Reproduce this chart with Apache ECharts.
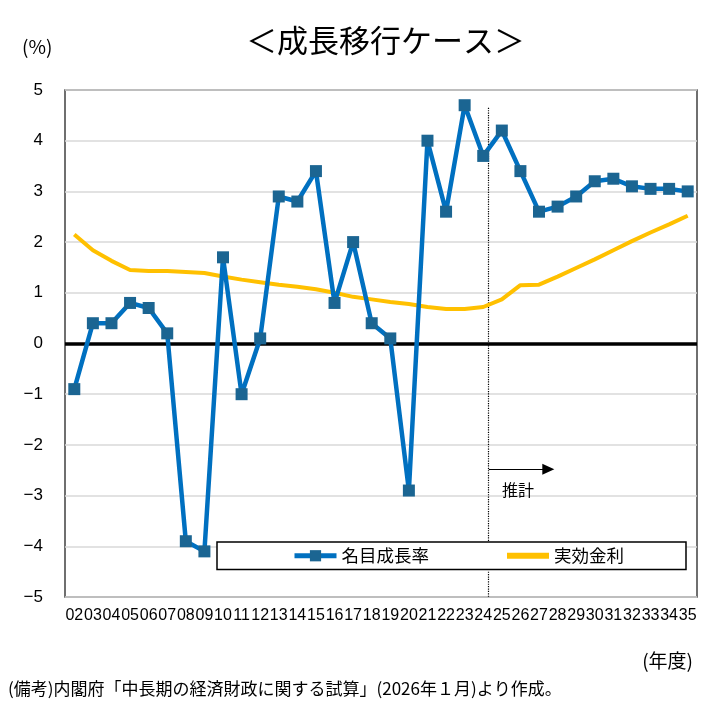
<!DOCTYPE html>
<html>
<head>
<meta charset="utf-8">
<script src="https://cdn.jsdelivr.net/npm/echarts@6/dist/echarts.min.js"></script>
<style>
html,body{margin:0;padding:0;background:#fff;}
#chart{width:728px;height:708px;}
</style>
</head>
<body>
<div id="chart"></div>
<script>
// ---- data ----
var years = ['02','03','04','05','06','07','08','09','10','11','12','13','14','15','16','17','18','19','20','21','22','23','24','25','26','27','28','29','30','31','32','33','34','35'];
var nominalGrowth = [-0.9,0.4,0.4,0.8,0.7,0.2,-3.9,-4.1,1.7,-1.0,0.1,2.9,2.8,3.4,0.8,2.0,0.4,0.1,-2.9,4.0,2.6,4.7,3.7,4.2,3.4,2.6,2.7,2.9,3.2,3.25,3.1,3.05,3.05,3.0];
var effectiveRate = [2.15,1.84,1.63,1.45,1.43,1.43,1.41,1.39,1.32,1.26,1.21,1.16,1.12,1.07,1.0,0.92,0.87,0.82,0.78,0.72,0.68,0.68,0.72,0.87,1.15,1.16,1.32,1.49,1.66,1.84,2.02,2.19,2.35,2.52];
var yTicks = {min:-5, max:5, interval:1};
var seriesNames = ['名目成長率','実効金利'];

var font = '"Noto Sans CJK JP", "Noto Sans", sans-serif';
var dotted = {type: 'dotted', color: '#000', width: 1.2};
var chart = echarts.init(document.getElementById('chart'));
chart.setOption({
  animation: false,
  backgroundColor: '#fff',
  textStyle: {fontFamily: font, color: '#000'},
  title: [
    {text: '＜成長移行ケース＞', left: 246, top: 25, padding: 0,
     textStyle: {fontSize: 31, fontWeight: 'normal', color: '#000', fontFamily: font}},
    {text: '(%)', left: 22, top: 37, padding: 0,
     textStyle: {fontSize: 19, fontWeight: 'normal', color: '#000', fontFamily: font}},
    {text: '(年度)', right: 35, top: 651, padding: 0,
     textStyle: {fontSize: 19, fontWeight: 'normal', color: '#000', fontFamily: font}},
    {text: '(備考)内閣府「中長期の経済財政に関する試算」(2026年１月)より作成。', left: 8, top: 680, padding: 0,
     textStyle: {fontSize: 17, fontWeight: 'normal', color: '#000', fontFamily: font}}
  ],
  legend: {
    data: [
      {name: seriesNames[0], lineStyle: {width: 5}},
      {name: seriesNames[1], lineStyle: {width: 6}, itemStyle: {opacity: 0}}
    ],
    left: 217, top: 542, z: 10,
    orient: 'horizontal',
    padding: [5, 62, 5, 75],
    itemGap: 75,
    itemWidth: 42, itemHeight: 14,
    borderColor: '#000', borderWidth: 1.5,
    backgroundColor: '#fff',
    textStyle: {fontSize: 17.5, color: '#000', fontFamily: font}
  },
  grid: {left: 65, right: 31, top: 90, bottom: 111, show: true,
         borderColor: '#404040', borderWidth: 1.5, containLabel: false},
  xAxis: [
    {type: 'category', data: years, boundaryGap: true,
     axisLine: {show: false, onZero: false}, axisTick: {show: false},
     axisLabel: {interval: 0, fontSize: 16, color: '#000', margin: 11,
                 fontFamily: '"Liberation Sans", Arial, sans-serif'},
     splitLine: {show: false}},
    {type: 'value', min: 0, max: years.length, show: false}
  ],
  yAxis: {
    type: 'value', min: yTicks.min, max: yTicks.max, interval: yTicks.interval,
    axisLine: {show: false}, axisTick: {show: false},
    axisLabel: {fontSize: 17, color: '#000', margin: 22,
                fontFamily: '"Liberation Sans", Arial, sans-serif',
                formatter: function(v){ return String(v).replace('-', '−'); }},
    splitLine: {show: true, lineStyle: {color: '#d9d9d9', width: 1.5}}
  },
  series: [
    {
      name: seriesNames[0], type: 'line', data: nominalGrowth,
      symbol: 'rect', symbolSize: 12,
      lineStyle: {color: '#0070C0', width: 4.5},
      itemStyle: {color: '#1B6592'},
      z: 4
    },
    {
      name: seriesNames[1], type: 'line', data: effectiveRate,
      symbol: 'none', showSymbol: false,
      lineStyle: {color: '#FFC000', width: 4},
      itemStyle: {color: '#FFC000'},
      z: 3
    },
    {
      name: 'annot', type: 'line', xAxisIndex: 1, data: [],
      silent: true, z: 2,
      markLine: {
        silent: true, symbol: 'none', animation: false, z: 2,
        label: {show: false},
        data: [
          [{coord: [22.76, 4.65], lineStyle: dotted}, {coord: [22.76, -3.9]}],
          [{coord: [22.76, -4.5], lineStyle: dotted}, {coord: [22.76, -5]}],
          {yAxis: 0, lineStyle: {type: 'solid', color: '#000', width: 3.5}},
          [{coord: [22.8, -2.48], symbol: 'none', lineStyle: {type: 'solid', color: '#000', width: 1}},
           {coord: [26.0, -2.48], symbol: 'triangle', symbolSize: [11, 12]}]
        ]
      },
      markPoint: {
        silent: true, animation: false, z: 2,
        data: [{coord: [24.37, -2.89], symbol: 'circle', symbolSize: 1,
                itemStyle: {color: 'rgba(0,0,0,0)'},
                label: {show: true, position: 'inside', formatter: '推計',
                        fontSize: 16, color: '#000', fontFamily: font}}]
      }
    }
  ]
});
</script>
</body>
</html>
